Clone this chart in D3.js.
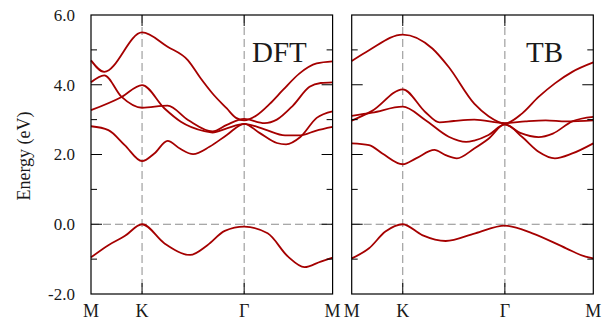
<!DOCTYPE html>
<html>
<head>
<meta charset="utf-8">
<script src="https://cdn.jsdelivr.net/npm/d3@7"></script>
<style>
  body { margin: 0; background: #fff; }
  text { font-family: "Liberation Serif", "DejaVu Serif", serif; fill: #1a1a1a; }
</style>
</head>
<body>
<svg id="bands"></svg>
<script>
// high-symmetry path M-K-Γ-M (path length units)
const kPoints = [0, 0.5, 1.5, 2.366];
const kLabels = ["M", "K", "Γ", "M"];
const energyTicks = [-2, 0, 2, 4, 6];

// DFT bands, [k, E]
const dftValence = [[0,-0.95],[0.17,-0.6],[0.33,-0.34],[0.5,0],[0.72,-0.55],[0.97,-0.88],[1.14,-0.6],[1.31,-0.19],[1.5,-0.07],[1.73,-0.26],[1.93,-0.93],[2.09,-1.23],[2.25,-1.07],[2.366,-0.96]];
const dftBandA = [[0,4.70],[0.13,4.37],[0.5,5.50],[0.75,5.09],[0.95,4.70],[1.07,4.2],[1.19,3.75],[1.33,3.32],[1.42,3.05],[1.5,2.98],[1.62,3.12],[1.75,3.45],[1.88,3.85],[2.04,4.32],[2.21,4.61],[2.366,4.67]];
const dftBandB = [[0,4.07],[0.13,4.27],[0.3,3.65],[0.5,3.34],[0.75,3.40],[0.95,2.99],[1.19,2.66],[1.33,2.85],[1.5,3.02],[1.7,2.90],[1.82,3.0],[1.98,3.41],[2.14,3.94],[2.25,4.05],[2.366,4.07]];
const dftBandC = [[0,3.27],[0.3,3.65],[0.5,3.99],[0.72,3.32],[0.88,2.94],[1.11,2.67],[1.19,2.63],[1.33,2.75],[1.5,2.88],[1.7,2.72],[1.9,2.55],[2.05,2.55],[2.2,2.68],[2.366,2.79]];
const dftBandD = [[0,2.81],[0.17,2.70],[0.33,2.27],[0.5,1.81],[0.62,2.03],[0.75,2.39],[0.87,2.17],[1.0,2.01],[1.16,2.22],[1.33,2.56],[1.5,2.88],[1.65,2.62],[1.82,2.33],[1.91,2.29],[2.05,2.5],[2.21,3.05],[2.366,3.24]];

// TB bands
const tbValence = [[0,-0.98],[0.17,-0.69],[0.33,-0.21],[0.5,0],[0.69,-0.31],[0.92,-0.48],[1.21,-0.26],[1.5,-0.04],[1.77,-0.26],[2.1,-0.69],[2.29,-0.93],[2.366,-0.98]];
const tbBandA = [[0,4.68],[0.17,4.99],[0.5,5.44],[0.79,5.04],[0.95,4.51],[1.2,3.46],[1.34,3.1],[1.5,2.89],[1.67,3.18],[1.83,3.65],[1.99,4.04],[2.16,4.37],[2.366,4.64]];
const tbBandB = [[0,2.97],[0.2,3.25],[0.5,3.87],[0.72,3.22],[0.86,2.92],[1.0,2.96],[1.2,3.0],[1.5,2.9],[1.7,2.95],[1.9,2.98],[2.1,2.95],[2.366,2.98]];
const tbBandC = [[0,3.11],[0.2,3.2],[0.5,3.37],[0.72,2.99],[0.95,2.51],[1.12,2.36],[1.2,2.40],[1.34,2.56],[1.5,2.86],[1.65,2.62],[1.83,2.5],[1.97,2.6],[2.16,2.95],[2.366,3.08]];
const tbBandD = [[0,2.32],[0.17,2.27],[0.30,2.03],[0.5,1.72],[0.63,1.89],[0.81,2.13],[0.92,1.98],[1.03,1.89],[1.2,2.17],[1.34,2.45],[1.5,2.87],[1.67,2.5],[1.83,2.08],[1.99,1.89],[2.16,2.03],[2.366,2.32]];

const panels = [
  { title: "DFT", left: 91, titleX: 252, bands: [dftValence, dftBandA, dftBandB, dftBandC, dftBandD], labels: true },
  { title: "TB", left: 351.7, titleX: 526, bands: [tbValence, tbBandA, tbBandB, tbBandC, tbBandD], labels: false }
];

const width = 616, height = 323;
const plotTop = 15, plotBottom = 294, panelW = 241.6;
const lineColor = "#a50000";

const svg = d3.select("#bands")
    .attr("width", width)
    .attr("height", height);

const y = d3.scaleLinear().domain([-2, 6]).range([plotBottom, plotTop]);

panels.forEach(p => {
  const x = d3.scaleLinear().domain([0, kPoints[3]]).range([p.left, p.left + panelW]);
  const g = svg.append("g");

  // dashed guides at K, Γ and E = 0
  g.selectAll("line.vguide")
    .data(kPoints.slice(1, 3))
    .enter().append("line")
    .attr("x1", d => x(d)).attr("x2", d => x(d))
    .attr("y1", plotTop).attr("y2", plotBottom)
    .attr("stroke", "#8c8c8c").attr("stroke-dasharray", "8,4");
  g.append("line")
    .attr("x1", x(0)).attr("x2", x(kPoints[3]))
    .attr("y1", y(0)).attr("y2", y(0))
    .attr("stroke", "#8c8c8c").attr("stroke-dasharray", "8,4");

  // bands
  const line = d3.line()
    .x(d => x(d[0]))
    .y(d => y(d[1]))
    .curve(d3.curveMonotoneX);
  g.selectAll("path.band")
    .data(p.bands)
    .enter().append("path")
    .attr("d", line)
    .attr("fill", "none")
    .attr("stroke", lineColor)
    .attr("stroke-width", 1.8);

  // inward ticks, left and right, every 1 eV
  const yTicks = d3.range(-1, 6, 1);
  yTicks.forEach(v => {
    const len = v % 2 === 0 ? 11 : 6;
    g.append("line").attr("x1", x(0)).attr("x2", x(0) + len)
      .attr("y1", y(v)).attr("y2", y(v)).attr("stroke", "#000");
    g.append("line").attr("x1", x(kPoints[3])).attr("x2", x(kPoints[3]) - len)
      .attr("y1", y(v)).attr("y2", y(v)).attr("stroke", "#000");
  });
  kPoints.slice(1, 3).forEach(k => {
    g.append("line").attr("x1", x(k)).attr("x2", x(k))
      .attr("y1", plotBottom).attr("y2", plotBottom - 11).attr("stroke", "#000");
    g.append("line").attr("x1", x(k)).attr("x2", x(k))
      .attr("y1", plotTop).attr("y2", plotTop + 11).attr("stroke", "#000");
  });

  // frame
  g.append("rect")
    .attr("x", x(0)).attr("y", plotTop)
    .attr("width", panelW).attr("height", plotBottom - plotTop)
    .attr("fill", "none").attr("stroke", "#000").attr("stroke-width", 1.2);

  // k labels
  g.selectAll("text.klab")
    .data(kPoints)
    .enter().append("text")
    .attr("x", d => x(d))
    .attr("y", 317)
    .attr("text-anchor", "middle")
    .style("font-size", "18px")
    .text((d, i) => kLabels[i]);

  if (p.labels) {
    g.selectAll("text.elab")
      .data(energyTicks)
      .enter().append("text")
      .attr("x", 75)
      .attr("y", d => y(d))
      .attr("dy", "0.35em")
      .attr("text-anchor", "end")
      .style("font-size", "17px")
      .text(d => d.toFixed(1));
  }

  g.append("text")
    .attr("x", p.titleX)
    .attr("y", 62)
    .style("font-size", "29px")
    .text(p.title);
});

svg.append("text")
  .attr("transform", "translate(30,156) rotate(-90)")
  .attr("text-anchor", "middle")
  .style("font-size", "18px")
  .text("Energy (eV)");
</script>
</body>
</html>
